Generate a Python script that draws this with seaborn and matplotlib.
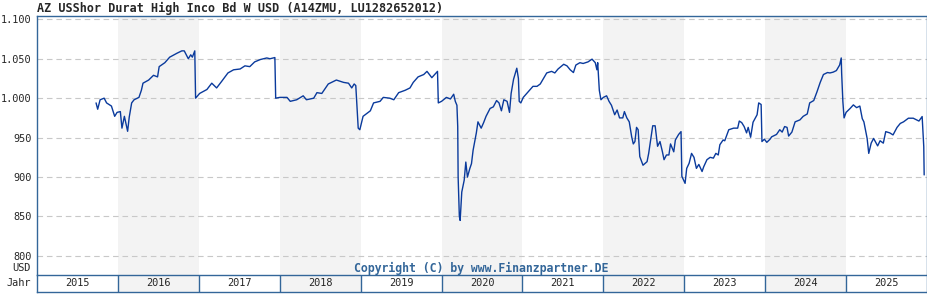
import matplotlib
matplotlib.use("Agg")
import matplotlib.pyplot as plt
import seaborn as sns
import pandas as pd

title = "AZ USShor Durat High Inco Bd W USD (A14ZMU, LU1282652012)"
copyright_text = "Copyright (C) by www.Finanzpartner.DE"
year_labels = [str(y) for y in range(2015, 2026)]
shaded_years = [2016, 2018, 2020, 2022, 2024]
y_ticks = [800, 850, 900, 950, 1000, 1050, 1100]
y_tick_labels = ["800", "850", "900", "950", "1.000", "1.050", "1.100"]
currency = "USD"
year_axis_label = "Jahr"

t = [2015.73, 2015.75, 2015.78, 2015.83, 2015.86, 2015.92, 2015.96, 2015.99, 2016.03, 2016.05,
     2016.08, 2016.12, 2016.14, 2016.17, 2016.20, 2016.26, 2016.29, 2016.31, 2016.38, 2016.44,
     2016.49, 2016.51, 2016.58, 2016.64, 2016.73, 2016.79, 2016.82, 2016.87, 2016.90, 2016.92,
     2016.95, 2016.96, 2017.01, 2017.10, 2017.16, 2017.22, 2017.28, 2017.36, 2017.43, 2017.51,
     2017.57, 2017.63, 2017.69, 2017.76, 2017.84, 2017.88, 2017.94, 2017.95, 2018.00, 2018.09,
     2018.13, 2018.21, 2018.29, 2018.33, 2018.42, 2018.46, 2018.52, 2018.60, 2018.70, 2018.79,
     2018.85, 2018.89, 2018.92, 2018.94, 2018.97, 2018.99, 2019.03, 2019.12, 2019.16, 2019.24,
     2019.28, 2019.36, 2019.41, 2019.47, 2019.55, 2019.61, 2019.65, 2019.71, 2019.78, 2019.82,
     2019.88, 2019.95, 2019.96, 2020.00, 2020.06, 2020.11, 2020.15, 2020.17, 2020.19, 2020.20,
     2020.205, 2020.22, 2020.23, 2020.25, 2020.28, 2020.30, 2020.32, 2020.35, 2020.37, 2020.39,
     2020.43, 2020.45, 2020.49, 2020.52, 2020.55, 2020.60, 2020.64, 2020.68, 2020.71, 2020.74,
     2020.77, 2020.81, 2020.84, 2020.86, 2020.89, 2020.93, 2020.95, 2020.96, 2020.98, 2021.01,
     2021.07, 2021.13, 2021.18, 2021.22, 2021.26, 2021.30, 2021.36, 2021.40, 2021.44, 2021.51,
     2021.55, 2021.59, 2021.63, 2021.66, 2021.71, 2021.75, 2021.81, 2021.86, 2021.90, 2021.92,
     2021.93, 2021.95, 2021.97, 2022.00, 2022.04, 2022.07, 2022.10, 2022.14, 2022.17, 2022.20,
     2022.24, 2022.26, 2022.29, 2022.32, 2022.35, 2022.37, 2022.39, 2022.41, 2022.43, 2022.45,
     2022.49, 2022.54, 2022.56, 2022.59, 2022.61, 2022.64, 2022.67, 2022.70, 2022.73, 2022.75,
     2022.78, 2022.81, 2022.83, 2022.87, 2022.89, 2022.93, 2022.96, 2022.965, 2022.97, 2023.00,
     2023.01, 2023.03, 2023.06, 2023.09, 2023.12, 2023.15, 2023.18, 2023.22, 2023.24, 2023.28,
     2023.32, 2023.36, 2023.39, 2023.42, 2023.44, 2023.48, 2023.50, 2023.55, 2023.61, 2023.66,
     2023.68, 2023.71, 2023.74, 2023.77, 2023.79, 2023.82, 2023.85, 2023.90, 2023.92, 2023.95,
     2023.96, 2023.99, 2024.02, 2024.06, 2024.08, 2024.14, 2024.18, 2024.21, 2024.24, 2024.27,
     2024.29, 2024.33, 2024.37, 2024.43, 2024.47, 2024.52, 2024.55, 2024.60, 2024.64, 2024.68,
     2024.72, 2024.77, 2024.80, 2024.84, 2024.88, 2024.92, 2024.94, 2024.945, 2024.96, 2024.975,
     2025.00, 2025.05, 2025.09, 2025.13, 2025.17, 2025.20, 2025.22, 2025.26, 2025.28, 2025.31,
     2025.34, 2025.39, 2025.42, 2025.46, 2025.49, 2025.54, 2025.58, 2025.63, 2025.67, 2025.71,
     2025.77, 2025.83, 2025.90, 2025.94, 2025.96, 2025.965]

price = [994, 986, 998, 1000, 994, 990, 977, 982, 983, 962,
         977, 958, 976, 994, 998, 1001, 1010, 1019, 1023, 1029,
         1027, 1040, 1045, 1052, 1057, 1060, 1060, 1050, 1055, 1052,
         1060, 1000, 1006, 1011, 1019, 1013, 1021, 1032, 1036, 1037,
         1041, 1040, 1046, 1049, 1051, 1050, 1051.5, 1000, 1001, 1001,
         996, 998, 1003, 998, 1000, 1007, 1006, 1018, 1023, 1020,
         1019, 1013, 1018, 1016, 962, 960, 977, 984, 994, 996,
         1001, 1000, 998, 1007, 1010, 1013, 1020, 1027, 1030, 1034,
         1026, 1034, 994, 996, 1001, 999, 1005, 996, 991, 964,
         900, 850, 845, 881, 896, 919, 900, 911, 917, 934,
         956, 970, 962, 969, 977, 987, 989, 997, 994, 984,
         998, 996, 982, 1006, 1024, 1038, 1025, 996, 994, 1001,
         1008, 1015, 1015, 1018, 1025, 1032, 1034, 1032, 1037, 1043,
         1041, 1036, 1032.5, 1042, 1045, 1044, 1046, 1049.5, 1045, 1036,
         1045, 1010, 998, 1001, 1003, 996, 991, 979, 985, 975,
         975, 983, 975, 970, 951, 942, 945, 963, 960, 926,
         915, 919.5, 930, 951, 965, 965, 939, 945, 932, 922,
         928, 928, 942, 932, 947, 954, 957.6, 930, 901, 894,
         892, 911, 917.5, 930, 925, 911, 916, 907, 913, 922,
         925, 924, 930, 928, 941, 947, 946, 960, 962, 962,
         971, 969, 964, 956, 963, 950.5, 969.5, 979, 994, 992,
         945, 948, 944, 948, 951, 954, 960, 957, 964, 963,
         952, 957, 970, 972.5, 977, 980, 994, 997, 1008, 1020,
         1030, 1032.5, 1032, 1033, 1035, 1042, 1051, 1032, 996, 975,
         982, 987, 991.5, 988, 990, 974, 970, 949, 930, 943,
         949, 939.5, 946, 943, 957.6, 956, 953.4, 963, 968, 970,
         974.6, 974.6, 971, 976.7, 938.6, 902.7]

sns.set_style("white")
plt.rcParams['font.family'] = ['DejaVu Sans Mono', 'DejaVu Sans']

BORDER = "#336699"
LINE = "#0a3a9c"
SHADE = "#f3f3f3"

W, H = 928, 300
fig = plt.figure(figsize=(W / 100, H / 100), dpi=100)
fig.patch.set_facecolor("white")

L, R, T, B, YB = 37, 927, 16, 275, 292
ax = fig.add_axes([L / W, (H - B) / H, (R - L) / W, (B - T) / H])
axy = fig.add_axes([L / W, (H - YB) / H, (R - L) / W, (YB - B) / H])

x0, x1 = 2015.0, 2026.0
for yr in shaded_years:
    ax.axvspan(yr, yr + 1, color=SHADE, lw=0, zorder=0)
    axy.axvspan(yr, yr + 1, color=SHADE, lw=0, zorder=0)

for v in y_ticks:
    ax.axhline(v, color="#c8c8c8", lw=0.8, linestyle=(0, (5, 3.5)), zorder=1)

df = pd.DataFrame({"t": t, "price": price})
sns.lineplot(data=df, x="t", y="price", ax=ax, color=LINE, linewidth=1.0,
             estimator=None, sort=False, zorder=3)

ax.set_xlim(x0, x1)
ax.set_ylim(775.8, 1104.2)
ax.set_xticks([])
ax.set_yticks(y_ticks)
ax.set_yticklabels(y_tick_labels, fontsize=7.4)
ax.tick_params(axis="y", length=0, pad=4)
ax.set_xlabel("")
ax.set_ylabel("")
for s in ax.spines.values():
    s.set_color(BORDER)
    s.set_linewidth(1.0)
ax.spines["bottom"].set_visible(False)

ax.text(481, H - 268, copyright_text, transform=None, ha="center", va="center",
        fontsize=8.3, fontweight="bold", color=BORDER)
fig.text(31 / W, 1 - 268 / H, currency, ha="right", va="center", fontsize=7.4)
fig.text(31 / W, 1 - 283.5 / H, year_axis_label, ha="right", va="center", fontsize=7.4)
fig.text(L / W, 1 - 8 / H, title, ha="left", va="center", fontsize=8.5, fontweight="bold")

axy.set_xlim(x0, x1)
axy.set_ylim(0, 1)
axy.set_xticks([])
axy.set_yticks([])
for i, lab in enumerate(year_labels):
    yr = 2015 + i
    axy.text(yr + 0.5, 0.5, lab, ha="center", va="center", fontsize=7.4)
    if i > 0:
        axy.axvline(yr, color=BORDER, lw=1.0)
for s in axy.spines.values():
    s.set_color(BORDER)
    s.set_linewidth(1.0)

fig.savefig("out.png", dpi=100, facecolor="white")
